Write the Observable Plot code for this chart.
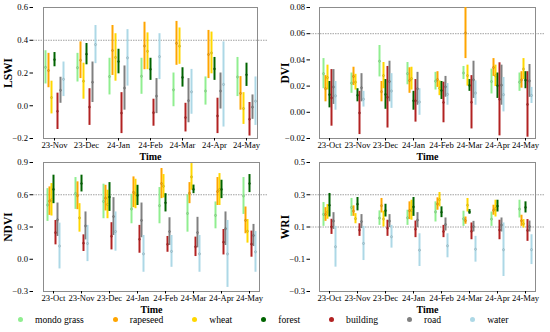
<!DOCTYPE html>
<html><head><meta charset="utf-8">
<script src="https://cdn.jsdelivr.net/npm/d3@7"></script>
<script src="https://cdn.jsdelivr.net/npm/@observablehq/plot@0.6"></script>
<style>
body{margin:0;background:#fff;}
#wrap{position:relative;width:550px;height:332px;font-family:"Liberation Serif","Times New Roman",serif;}
.panel{position:absolute;width:275px;height:160px;}
.panel svg{overflow:visible;position:absolute;left:0;top:0;max-width:none !important;}
g[aria-label="y-axis label"] text{font-weight:bold;font-size:11.5px;}
g[aria-label="fx-axis label"] text{font-weight:bold;font-size:10px;}
#legend{position:absolute;top:314px;left:18px;display:flex;align-items:center;font-size:9.6px;}
.item{display:flex;align-items:center;margin-right:29px;}
.sw{width:5px;height:5px;border-radius:50%;margin-right:12px;}
</style></head>
<body><div id="wrap"></div>
<script>
const cats = ["mondo grass","rapeseed","wheat","forest","building","road","water"];
const colors = ["#90ee90","#ffa500","#ffd700","#006400","#b22222","#808080","#add8e6"];

const monthsLSWI = ["23-Nov","23-Dec","24-Jan","24-Feb","24-Mar","24-Apr","24-May"];
const monthsOther = ["23-Oct","23-Nov","23-Dec","24-Jan","24-Feb","24-Mar","24-Apr","24-May"];

// [low, high] of each error bar (mean ± sd), rows = months, columns = cats
const lswiRanges = [
  [[0.133,0.336],[0.11,0.32],[-0.05,0.15],[0.238,0.325],[-0.145,0.077],[0.015,0.174],[0.056,0.267]],
  [[0.145,0.32],[0.166,0.39],[0.04,0.26],[0.25,0.38],[-0.12,0.104],[0.02,0.267],[0.257,0.49]],
  [[0.066,0.29],[0.185,0.49],[0.15,0.44],[0.195,0.345],[-0.17,0.08],[-0.027,0.243],[0.12,0.465]],
  [[0.07,0.29],[0.22,0.51],[0.22,0.445],[0.155,0.29],[-0.125,0.04],[-0.048,0.166],[0.16,0.44]],
  [[-0.006,0.2],[0.247,0.515],[0.253,0.475],[0.114,0.232],[-0.16,0.015],[-0.104,0.166],[-0.052,0.222]],
  [[0.004,0.176],[0.166,0.46],[0.195,0.45],[0.155,0.295],[-0.17,0.046],[-0.02,0.2],[-0.13,0.39]],
  [[0.056,0.295],[-0.027,0.178],[-0.114,0.08],[0.118,0.26],[-0.185,0.02],[-0.083,0.066],[-0.12,0.176]]
];
const dviRanges = [
  [[0.018,0.041],[0.008,0.028],[0.017,0.036],[0.0034,0.0235],[-0.0106,0.0326],[0.006,0.0326],[0.0016,0.0235]],
  [[0.0145,0.03],[0.0204,0.0344],[0.017,0.029],[0.008,0.018],[-0.017,0.016],[0.008,0.0295],[0.004,0.016]],
  [[0.027,0.051],[0.008,0.0235],[0.018,0.038],[0.0023,0.025],[-0.012,0.035],[0.008,0.039],[0.003,0.0295]],
  [[0.021,0.038],[0.0145,0.034],[0.017,0.0344],[0.0016,0.016],[-0.0075,0.025],[0.0054,0.0305],[-0.0023,0.018]],
  [[0.017,0.0305],[0.019,0.031],[0.0127,0.024],[0.0098,0.0235],[-0.008,0.023],[0.0115,0.0274],[0.0054,0.022]],
  [[0.025,0.035],[0.041,0.08],[0.02,0.036],[0.016,0.025],[-0.0127,0.028],[0.0106,0.039],[0.0054,0.024]],
  [[0.014,0.033],[0.0274,0.041],[0.0197,0.036],[0.0106,0.030],[-0.018,0.0378],[0.0054,0.036],[0.0003,0.0266]],
  [[0.016,0.030],[0.0184,0.031],[0.025,0.041],[0.018,0.031],[-0.019,0.031],[0.0114,0.0365],[0.0067,0.019]]
];
const ndviRanges = [
  [[0.352,0.657],[0.408,0.673],[0.402,0.704],[0.517,0.782],[0.134,0.361],[0.212,0.523],[-0.09,0.336]],
  [[0.464,0.76],[0.461,0.72],[0.252,0.517],[0.626,0.782],[0.072,0.227],[0.18,0.44],[-0.022,0.315]],
  [[0.377,0.698],[0.449,0.688],[0.377,0.642],[0.445,0.713],[0.087,0.34],[0.221,0.573],[0.075,0.44]],
  [[0.33,0.604],[0.48,0.766],[0.47,0.744],[0.5,0.688],[0.056,0.315],[0.2,0.523],[-0.121,0.221]],
  [[0.33,0.667],[0.564,0.844],[0.57,0.788],[0.44,0.61],[0.065,0.212],[0.128,0.386],[-0.075,0.221]],
  [[0.252,0.6],[0.517,0.713],[0.642,0.89],[0.61,0.69],[0.025,0.206],[0.106,0.39],[-0.121,0.221]],
  [[0.283,0.533],[0.5,0.76],[0.5,0.797],[0.564,0.735],[0.04,0.277],[0.128,0.44],[-0.262,0.361]],
  [[0.417,0.76],[0.237,0.486],[0.15,0.37],[0.62,0.788],[0.019,0.262],[0.118,0.324],[-0.121,0.259]]
];
const wriRanges = [
  [[0.104,0.252],[0.135,0.22],[0.148,0.239],[0.162,0.308],[0.054,0.148],[0.085,0.189],[-0.149,0.104]],
  [[0.166,0.277],[0.166,0.231],[0.12,0.183],[0.2,0.283],[0.042,0.12],[0.09,0.177],[-0.108,0.104]],
  [[0.11,0.2],[0.187,0.277],[0.1,0.198],[0.162,0.241],[0.042,0.142],[0.096,0.177],[-0.031,0.11]],
  [[0.11,0.204],[0.146,0.256],[0.142,0.266],[0.166,0.283],[0.034,0.137],[0.096,0.189],[-0.145,0.058]],
  [[0.131,0.256],[0.204,0.281],[0.225,0.314],[0.158,0.225],[0.034,0.11],[0.075,0.156],[-0.091,0.058]],
  [[0.104,0.198],[0.117,0.162],[0.193,0.277],[0.179,0.208],[0.021,0.125],[0.069,0.135],[-0.118,0.042]],
  [[0.104,0.193],[0.173,0.235],[0.162,0.266],[0.193,0.266],[0.021,0.142],[0.069,0.156],[-0.207,0.125]],
  [[0.156,0.266],[0.104,0.173],[0.094,0.146],[0.187,0.256],[0.011,0.146],[0.069,0.137],[-0.133,0.052]]
];

const lswiTicks = [-0.2, 0, 0.2, 0.4, 0.6];
const dviTicks = [-0.02, 0, 0.02, 0.04, 0.06, 0.08];
const ndviTicks = [-0.3, 0, 0.3, 0.6, 0.9];
const wriTicks = [-0.3, -0.1, 0.1, 0.3, 0.5];
const lswiRefs = [0.4], dviRefs = [0.06], ndviRefs = [0.6], wriRefs = [0.3, 0.1];

function panel(o){
  const rows = [];
  o.months.forEach((m,i)=>cats.forEach((c,j)=>{
    const [lo,hi] = o.ranges[i][j];
    rows.push({month:m, cat:c, lo, hi, mean:(lo+hi)/2});
  }));
  const common = {
    width:275, height:o.h, marginLeft:o.ml, marginRight:o.mr, marginTop:7, marginBottom:o.mb,
    style:{fontFamily:"'Liberation Serif', serif", fontSize:"8.6px", background:"transparent", color:"#000"},
    y:{domain:o.domain}
  };
  const under = Plot.plot({
    ...common,
    x:{domain:[0,1], axis:null},
    marks:[
      Plot.ruleY(o.refs, {stroke:"#8a8a8a", strokeWidth:0.8, strokeDasharray:"1.5,1"}),
      Plot.axisY({ticks:o.ticks, tickFormat:d3.format(o.fmt), tickSize:3.5, tickPadding:2, label:o.label, labelAnchor:"center", labelArrow:"none", labelOffset:30})
    ]
  });
  const bars = Plot.plot({
    ...common,
    fx:{domain:o.months, paddingInner:0.3, paddingOuter:o.po},
    x:{type:"point", domain:cats, padding:0.5, axis:null},
    y:{domain:o.domain, axis:null},
    color:{domain:cats, range:colors},
    marks:[
      Plot.frame({facet:"super", stroke:"#8c8c8c", strokeWidth:1}),
      Plot.axisFx({anchor:"bottom", tickSize:2.5, tickPadding:1, label:"Time", labelAnchor:"center", labelOffset:o.lo}),
      Plot.ruleX(rows, {fx:"month", x:"cat", y1:"lo", y2:"hi", stroke:"cat", strokeWidth:2}),
      Plot.dot(rows, {fx:"month", x:"cat", y:"mean", fill:"cat", r:1.1, stroke:"#000", strokeOpacity:0.25, strokeWidth:0.5})
    ]
  });
  return [under, bars];
}

const wrap = document.getElementById("wrap");
function place(nodes, left, top){
  const d = document.createElement("div");
  d.className = "panel"; d.style.left = left+"px"; d.style.top = top+"px";
  nodes.forEach(n=>d.appendChild(n)); wrap.appendChild(d);
}
place(panel({months:monthsLSWI, ranges:lswiRanges, label:"LSWI", domain:[-0.2,0.6], ticks:lswiTicks, fmt:".1f", refs:lswiRefs, ml:33, mr:7, h:160, mb:22, po:0.27, lo:21.5}), 0, 0);
place(panel({months:monthsOther, ranges:dviRanges, label:"DVI", domain:[-0.02,0.08], ticks:dviTicks, fmt:".2f", refs:dviRefs, ml:35, mr:6, h:160, mb:22, po:0.27, lo:21.5}), 275, 0);
place(panel({months:monthsOther, ranges:ndviRanges, label:"NDVI", domain:[-0.3,0.9], ticks:ndviTicks, fmt:".1f", refs:ndviRefs, ml:33, mr:7, h:160, mb:24, po:0.3, lo:21.5}), 0, 155);
place(panel({months:monthsOther, ranges:wriRanges, label:"WRI", domain:[-0.3,0.5], ticks:wriTicks, fmt:".1f", refs:wriRefs, ml:35, mr:6, h:160, mb:24, po:0.27, lo:21.5}), 275, 155);

const leg = document.createElement("div");
leg.id = "legend";
cats.forEach((c,i)=>{
  const it = document.createElement("div"); it.className = "item";
  const sw = document.createElement("span"); sw.className = "sw"; sw.style.background = colors[i];
  const tx = document.createElement("span"); tx.textContent = c;
  it.appendChild(sw); it.appendChild(tx); leg.appendChild(it);
});
wrap.appendChild(leg);
</script></body></html>
